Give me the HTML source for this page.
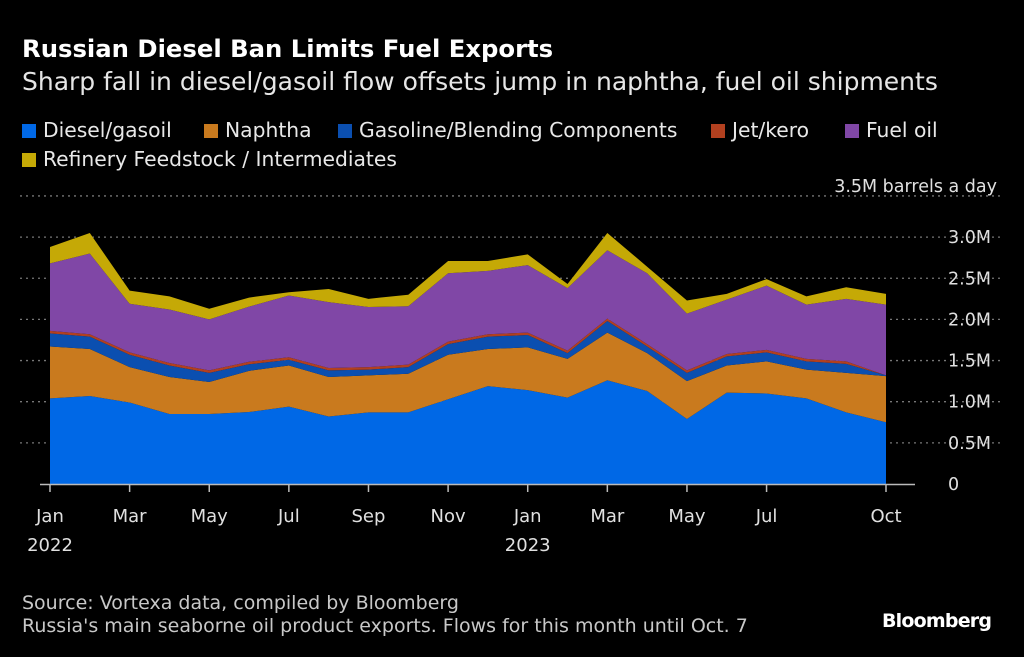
<!DOCTYPE html>
<html><head><meta charset="utf-8"><style>
body{margin:0;background:#000;}
#c{position:relative;width:1024px;height:657px;background:#000;font-family:"DejaVu Sans","Liberation Sans",sans-serif;color:#fff;overflow:hidden}
.t{position:absolute;white-space:nowrap}
.leg{position:absolute;font-size:20.3px;color:#e8e8e8;white-space:nowrap}
.sw{display:inline-block;width:14px;height:14px;margin-right:7px;vertical-align:-1px}
</style></head><body>
<div id="c">
<div class="t" style="left:22px;top:34px;font-size:24.3px;font-weight:bold">Russian Diesel Ban Limits Fuel Exports</div>
<div class="t" style="left:22px;top:67px;font-size:25px;color:#e6e6e6">Sharp fall in diesel/gasoil flow offsets jump in naphtha, fuel oil shipments</div>
<div class="leg" style="left:22px;top:118px"><span class="sw" style="background:#0068e6"></span>Diesel/gasoil</div>
<div class="leg" style="left:204px;top:118px"><span class="sw" style="background:#c97a1e"></span>Naphtha</div>
<div class="leg" style="left:338px;top:118px"><span class="sw" style="background:#0b4fb0"></span>Gasoline/Blending Components</div>
<div class="leg" style="left:711px;top:118px"><span class="sw" style="background:#b2401f"></span>Jet/kero</div>
<div class="leg" style="left:845px;top:118px"><span class="sw" style="background:#8047a6"></span>Fuel oil</div>
<div class="leg" style="left:22px;top:147px"><span class="sw" style="background:#c5a906"></span>Refinery Feedstock / Intermediates</div>
<svg id="s" width="1024" height="657" style="position:absolute;left:0;top:0"></svg>
<div class="t" style="left:22px;top:592px;font-size:19px;color:#c8c8c8">Source: Vortexa data, compiled by Bloomberg</div>
<div class="t" style="left:22px;top:615px;font-size:19px;color:#c8c8c8">Russia's main seaborne oil product exports. Flows for this month until Oct. 7</div>
<div class="t" style="left:882px;top:610px;font-size:19px;font-weight:bold;letter-spacing:-0.8px">Bloomberg</div>
</div>
<script>
const months=["Jan","Feb","Mar","Apr","May","Jun","Jul","Aug","Sep","Oct","Nov","Dec","Jan","Feb","Mar","Apr","May","Jun","Jul","Aug","Sep","Oct"];
const diesel=[1.04,1.07,0.99,0.85,0.85,0.875,0.94,0.82,0.87,0.87,1.03,1.19,1.14,1.05,1.26,1.13,0.79,1.11,1.10,1.04,0.87,0.75];
const naphtha=[0.63,0.57,0.43,0.45,0.39,0.50,0.50,0.48,0.45,0.47,0.54,0.45,0.52,0.47,0.58,0.46,0.46,0.33,0.39,0.35,0.48,0.56];
const gasoline=[0.16,0.15,0.15,0.14,0.11,0.08,0.07,0.08,0.07,0.08,0.13,0.15,0.15,0.07,0.14,0.08,0.10,0.11,0.11,0.10,0.11,0.01];
const jet=[0.03,0.03,0.03,0.03,0.03,0.03,0.03,0.03,0.03,0.03,0.03,0.03,0.03,0.03,0.03,0.03,0.03,0.03,0.03,0.03,0.03,0.0];
const fuelOil=[0.82,0.98,0.59,0.65,0.62,0.67,0.75,0.80,0.73,0.71,0.83,0.77,0.82,0.76,0.83,0.86,0.69,0.66,0.78,0.66,0.76,0.86];
const feedstock=[0.20,0.25,0.16,0.16,0.13,0.11,0.04,0.16,0.10,0.14,0.15,0.12,0.13,0.05,0.21,0.08,0.16,0.07,0.08,0.10,0.14,0.13];
const yTicks=[0,0.5,1.0,1.5,2.0,2.5,3.0,3.5];
const yTickLabels=["0","0.5M","1.0M","1.5M","2.0M","2.5M","3.0M","3.5M barrels a day"];
const xLabelIdx=[0,2,4,6,8,10,12,14,16,18,21];
const xYears={0:"2022",12:"2023"};

const NS="http://www.w3.org/2000/svg";
const svg=document.getElementById('s');
const FF='DejaVu Sans, Liberation Sans, sans-serif';
const x=i=>50+i*(886-50)/21;
const y=v=>484-v*82.3;
function mk(t,a){const e=document.createElementNS(NS,t);for(const k in a)e.setAttribute(k,a[k]);svg.appendChild(e);return e;}
yTicks.forEach((v,k)=>{
  if(v>0){const g=mk('line',{x1:20,x2:1000,y1:y(v),y2:y(v),stroke:'#777','stroke-width':1.3,'stroke-dasharray':'2,4'});
  
  }
  const t=mk('text',{x:v===3.5?997:948,y:y(v)+6,fill:'#e0e0e0','font-size':17.5,'font-family':FF});
  if(v===3.5){t.setAttribute('y',y(v)-4);t.setAttribute('text-anchor','end');}
  t.textContent=yTickLabels[k];
  
  
});
const series=[[diesel,'#0068e6','diesel'],[naphtha,'#c97a1e','naphtha'],[gasoline,'#0b4fb0','gasoline'],[jet,'#b2401f','jet-kero'],[fuelOil,'#8047a6','fuel-oil'],[feedstock,'#c5a906','feedstock']];
let base=months.map(()=>0);
series.forEach(([vals,col,name])=>{
  const top=base.map((b,i)=>b+vals[i]);
  let d='M'+top.map((v,i)=>x(i)+','+y(v)).join('L');
  for(let i=base.length-1;i>=0;i--)d+='L'+x(i)+','+y(base[i]);
  const p=mk('path',{d:d+'Z',fill:col});
  
  
  base=top;
});
const ax=mk('line',{x1:40,x2:915,y1:484.5,y2:484.5,stroke:'#bbb','stroke-width':1.5});


xLabelIdx.forEach(i=>{
  const tk=mk('line',{x1:x(i),x2:x(i),y1:484,y2:492,stroke:'#bbb','stroke-width':1.5});
  
  
  const t=mk('text',{x:x(i),y:522,fill:'#e0e0e0','font-size':18,'text-anchor':'middle','font-family':FF});
  t.textContent=months[i];
  
  
  if(xYears[i]){const yt=mk('text',{x:x(i),y:551,fill:'#e0e0e0','font-size':18,'text-anchor':'middle','font-family':FF});
  yt.textContent=xYears[i];
  
  }
});
</script>
</body></html>
